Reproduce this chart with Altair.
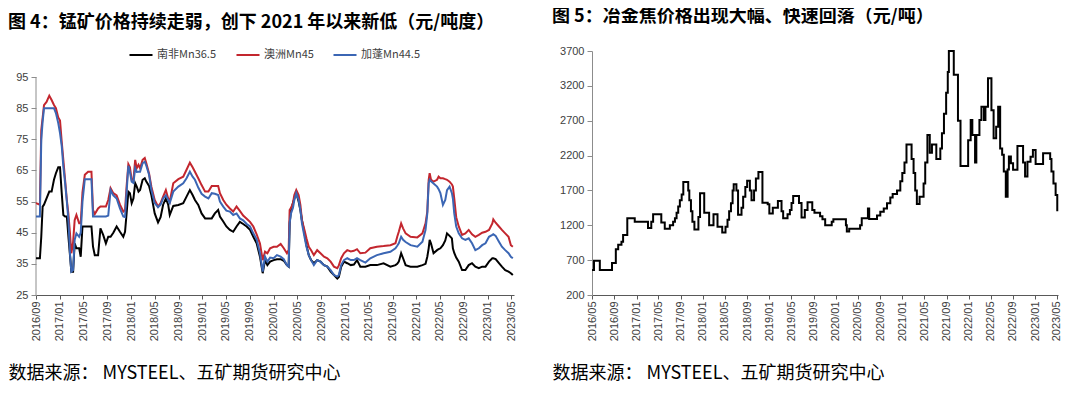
import altair as alt
import pandas as pd

TITLE_L = "图 4：锰矿价格持续走弱，创下 2021 年以来新低（元/吨度）"
TITLE_R = "图 5：冶金焦价格出现大幅、快速回落（元/吨）"
SOURCE = "数据来源： MYSTEEL、五矿期货研究中心"

SERIES = ["南非Mn36.5", "澳洲Mn45", "加蓬Mn44.5"]
COLORS = ["#000000", "#C3262E", "#3B66B4"]

LEFT_TICKS = ["2016/09", "2017/01", "2017/05", "2017/09", "2018/01", "2018/05", "2018/09",
              "2019/01", "2019/05", "2019/09", "2020/01", "2020/05", "2020/09", "2021/01",
              "2021/05", "2021/09", "2022/01", "2022/05", "2022/09", "2023/01", "2023/05"]
RIGHT_TICKS = ["2016/05", "2016/09", "2017/01", "2017/05", "2017/09", "2018/01", "2018/05",
               "2018/09", "2019/01", "2019/05", "2019/09", "2020/01", "2020/05", "2020/09",
               "2021/01", "2021/05", "2021/09", "2022/01", "2022/05", "2022/09", "2023/01",
               "2023/05"]
LEFT_Y = [25, 35, 45, 55, 65, 75, 85, 95]
RIGHT_Y = [200, 700, 1200, 1700, 2200, 2700, 3200, 3700]

MN_DATES = [
    "2016-09-01", "2016-09-21", "2016-09-28", "2016-10-05", "2016-10-12", "2016-10-25",
    "2016-11-08", "2016-11-20", "2016-12-02", "2016-12-12", "2016-12-24", "2017-01-02",
    "2017-01-11", "2017-01-19", "2017-01-28", "2017-02-06", "2017-02-14", "2017-02-22",
    "2017-03-01", "2017-03-10", "2017-03-18", "2017-03-27", "2017-04-10", "2017-04-18",
    "2017-04-27", "2017-05-09", "2017-05-26", "2017-06-12", "2017-06-20", "2017-06-29",
    "2017-07-16", "2017-07-28", "2017-08-11", "2017-08-25", "2017-09-06", "2017-09-18",
    "2017-10-02", "2017-10-19", "2017-11-05", "2017-11-22", "2017-12-01", "2017-12-09",
    "2017-12-18", "2017-12-26", "2018-01-04", "2018-01-13", "2018-01-22", "2018-01-30",
    "2018-02-08", "2018-02-16", "2018-03-01", "2018-03-12", "2018-03-20", "2018-04-03",
    "2018-04-15", "2018-05-02", "2018-05-19", "2018-06-01", "2018-06-14", "2018-06-28",
    "2018-07-10", "2018-07-18", "2018-08-05", "2018-08-31", "2018-09-25", "2018-10-12",
    "2018-10-29", "2018-11-12", "2018-11-24", "2018-12-11", "2018-12-28", "2019-01-15",
    "2019-02-01", "2019-02-18", "2019-03-06", "2019-03-23", "2019-04-01", "2019-04-18",
    "2019-05-04", "2019-05-22", "2019-06-08", "2019-06-25", "2019-07-12", "2019-07-29",
    "2019-08-16", "2019-09-02", "2019-09-19", "2019-10-06", "2019-10-23", "2019-11-06",
    "2019-11-18", "2019-11-30", "2019-12-14", "2020-01-01", "2020-01-18", "2020-02-06",
    "2020-02-22", "2020-03-09", "2020-03-18", "2020-03-23", "2020-03-30", "2020-04-09",
    "2020-04-16", "2020-04-26", "2020-05-08", "2020-05-17", "2020-05-25", "2020-06-07",
    "2020-06-17", "2020-06-29", "2020-07-11", "2020-07-25", "2020-08-11", "2020-08-28",
    "2020-09-15", "2020-10-02", "2020-10-19", "2020-11-05", "2020-11-22", "2020-11-30",
    "2020-12-12", "2020-12-26", "2021-01-12", "2021-01-30", "2021-02-15", "2021-03-03",
    "2021-03-20", "2021-04-15", "2021-05-10", "2021-06-13", "2021-07-17", "2021-08-21",
    "2021-09-16", "2021-09-25", "2021-10-03", "2021-10-15", "2021-10-25", "2021-11-07",
    "2021-12-02", "2022-01-06", "2022-02-01", "2022-02-17", "2022-02-26", "2022-03-05",
    "2022-03-10", "2022-03-17", "2022-03-30", "2022-04-17", "2022-04-25", "2022-05-04",
    "2022-05-17", "2022-05-29", "2022-06-07", "2022-06-20", "2022-07-02", "2022-07-07",
    "2022-07-14", "2022-07-24", "2022-08-06", "2022-08-23", "2022-09-09", "2022-09-26",
    "2022-10-13", "2022-10-30", "2022-11-17", "2022-12-04", "2022-12-21", "2023-01-08",
    "2023-01-25", "2023-01-30", "2023-02-11", "2023-02-28", "2023-03-15", "2023-04-01",
    "2023-04-18", "2023-04-30", "2023-05-10",
]

# 澳洲Mn45 (red)
MN_AU = [
    54.5, 54, 78, 82, 86, 87, 89, 87.6, 86, 85, 82, 81,
    74, 68.4, 62, 55.5, 51, 44.8, 38.4, 42, 49, 50.7, 48, 48,
    58, 63.6, 64.6, 64.6, 52.3, 51, 52.8, 53.4, 53.4, 53.4, 55.5, 59.3,
    57.7, 57, 54, 51.8, 52.3, 60, 67, 66, 62, 62, 68.4, 65.7,
    66.8, 65.7, 68.4, 69, 67.3, 64, 59.8, 55.5, 53.4, 54.5, 56.6, 58.7,
    56, 55, 60.9, 62.2, 63, 65.2, 67.5, 66, 64.6, 62.5, 60.3, 58.2,
    58.2, 60, 60, 60, 57.7, 55.5, 54, 52.8, 51.8, 53.4, 52, 50.5,
    49.5, 48.5, 47, 44.5, 41.5, 36.2, 38.9, 38.4, 40, 40.5, 40.5, 41.4,
    40, 38.4, 39.5, 52.3, 53, 54.5, 57.1, 58.7, 57.1, 53.9, 49, 45.9,
    43.2, 40.5, 39.4, 37.8, 39.4, 38.4, 37.3, 36.8, 35.7, 34.1, 33.6, 34.5,
    36.8, 38.4, 39.4, 39, 39.2, 39.7, 38.4, 38.6, 40, 40.5, 40.7, 41,
    41.6, 43.7, 45.3, 48, 46.4, 44.8, 43.7, 43.5, 44.8, 48, 51.8, 62,
    64.1, 62, 61.4, 62, 63, 62.5, 62.5, 62.2, 62, 61.4, 60.5, 59.8,
    56, 50, 47, 44.3, 44.8, 45.9, 44.5, 43.7, 44.3, 45, 45.3, 45.9,
    48, 49.3, 48.2, 47, 45.9, 44.8, 43.7, 41, 40.5,
]

# 加蓬Mn44.5 (blue)
MN_GA = [
    50.2, 50.2, 74.8, 80.7, 85, 85, 85, 85, 85, 83.4, 80.2, 77,
    72.7, 66.2, 61, 55, 49, 38.4, 32.5, 33, 42.7, 44.8, 43.7, 45,
    55, 62.2, 62.2, 62.2, 50.2, 50.2, 50.2, 50.2, 50.2, 50.2, 50.5, 58.7,
    57, 56, 52.8, 50.2, 50, 58, 66.5, 64.5, 61.4, 61, 65.7, 64.5,
    64.6, 64.6, 67.3, 67.8, 66.5, 63.6, 58.7, 54.5, 53.2, 54, 56, 57,
    55.5, 54.5, 58.2, 59.8, 60.9, 62.5, 64.6, 63, 62, 59.5, 57.5, 56.6,
    56, 57.7, 57.5, 57.1, 55, 53.4, 52.1, 51.8, 50.7, 51.2, 49.6, 49,
    47.8, 47, 44.8, 42.9, 38.4, 32.5, 37.3, 35.7, 37, 36.8, 37.8, 37.3,
    36.5, 34.6, 34.1, 48, 51.2, 53, 55.5, 57.7, 55.5, 52.3, 48, 43.7,
    40.5, 37.8, 36.2, 34.6, 36.2, 35.7, 34.6, 34.1, 33, 31.4, 30.9, 31.4,
    34.6, 36.2, 36.8, 36.2, 36.2, 36.8, 36.2, 35.4, 36.8, 37.8, 38.4, 38.9,
    40, 40.8, 41.6, 43.7, 42.7, 42, 41, 40.5, 42.1, 45.9, 51.2, 60.9,
    62, 61.5, 60.8, 59.8, 59, 57.7, 53.9, 55.5, 58.7, 59.8, 57.7, 56,
    51.2, 47, 44.8, 43.2, 42.7, 43.2, 41.6, 39.4, 40, 41, 41.6, 43.7,
    44.3, 44.5, 44, 42.1, 40.5, 39.4, 38.4, 37.3, 36.8,
]

# 南非Mn36.5 (black)
MN_SA = [
    36.8, 36.8, 43.7, 53.4, 54, 56, 58.2, 58.2, 62, 64.1, 66, 66,
    57.5, 50.7, 50.2, 50.2, 43.7, 37.8, 32.5, 32.5, 41.6, 40, 40, 37.3,
    47, 47, 47, 47, 40.5, 37.8, 37.8, 46.4, 44.3, 41.6, 43.7, 43.7,
    45, 47, 45.3, 43.7, 45.3, 51.2, 58.2, 57.7, 54.5, 56, 60.9, 59.8,
    58.2, 58.7, 62, 62.5, 61.4, 60, 57, 51.2, 48.3, 50, 54, 56,
    54, 50.7, 53.6, 53.9, 54.5, 56.6, 58.7, 57.1, 55.5, 53.9, 51.2, 49.6,
    49.6, 49.6, 51.2, 52.3, 50.2, 48.6, 47, 45.9, 45.3, 47, 48.5, 47.8,
    47, 45.9, 43.7, 41.6, 37.3, 32, 36.2, 34.6, 35.7, 36.2, 36.5, 36.5,
    36, 34.6, 34.1, 48, 52.3, 54.5, 56, 57.7, 55, 52.3, 49, 44.8,
    41, 37.8, 36.2, 35.2, 36.2, 35.7, 34.6, 34.1, 32.5, 31.4, 30.3, 30.8,
    34.1, 35.7, 35.2, 34.6, 34.8, 36.2, 34.1, 34.1, 34.6, 34.6, 35.2, 34.1,
    34.6, 35, 35.7, 38.4, 36.8, 34.6, 34.1, 34.1, 34.6, 35, 37.3, 40,
    42.7, 41.5, 38.4, 39.4, 39.7, 40, 41, 42.5, 44.8, 44, 43.2, 40,
    38.5, 37, 35.7, 33, 33, 34.6, 35.2, 34.1, 33.6, 34.1, 34.1, 35.7,
    36.8, 36.8, 36.5, 35.2, 34.1, 33, 32.5, 32, 31.4,
]

COKE_DATES = [
    "2016-05-01", "2016-05-12", "2016-06-13", "2016-08-19", "2016-09-09", "2016-09-22",
    "2016-10-10", "2016-10-19", "2016-11-11", "2016-12-22", "2017-03-05", "2017-03-23",
    "2017-04-02", "2017-05-17", "2017-06-05", "2017-07-03", "2017-07-21", "2017-07-31",
    "2017-08-09", "2017-08-18", "2017-08-27", "2017-09-06", "2017-09-15", "2017-10-12",
    "2017-10-18", "2017-10-27", "2017-11-04", "2017-11-15", "2017-12-07", "2017-12-16",
    "2018-01-08", "2018-02-04", "2018-02-28", "2018-03-22", "2018-04-17", "2018-05-05",
    "2018-05-16", "2018-05-25", "2018-06-04", "2018-06-13", "2018-06-19", "2018-07-04",
    "2018-07-13", "2018-08-01", "2018-08-10", "2018-08-22", "2018-09-01", "2018-09-16",
    "2018-09-25", "2018-10-09", "2018-10-19", "2018-11-02", "2018-11-24", "2018-12-23",
    "2019-01-01", "2019-01-20", "2019-02-17", "2019-03-09", "2019-03-18", "2019-04-11",
    "2019-04-24", "2019-05-03", "2019-05-12", "2019-06-13", "2019-06-27", "2019-07-15",
    "2019-07-30", "2019-08-25", "2019-09-06", "2019-10-07", "2019-10-20", "2019-11-04",
    "2019-12-10", "2019-12-19", "2020-02-26", "2020-03-02", "2020-03-15", "2020-05-14",
    "2020-05-23", "2020-06-26", "2020-07-03", "2020-08-15", "2020-09-02", "2020-09-21",
    "2020-10-09", "2020-10-27", "2020-11-09", "2020-12-03", "2020-12-21", "2021-01-01",
    "2021-01-13", "2021-01-24", "2021-02-21", "2021-03-04", "2021-03-13", "2021-03-22",
    "2021-04-06", "2021-04-28", "2021-05-07", "2021-05-19", "2021-06-01", "2021-06-13",
    "2021-07-07", "2021-07-29", "2021-08-07", "2021-08-18", "2021-08-30", "2021-09-08",
    "2021-09-14", "2021-10-11", "2021-11-03", "2021-11-17", "2021-12-29", "2022-01-12",
    "2022-01-21", "2022-02-05", "2022-02-12", "2022-03-01", "2022-03-12", "2022-03-26",
    "2022-04-03", "2022-04-17", "2022-05-06", "2022-05-18", "2022-06-01", "2022-06-12",
    "2022-06-23", "2022-07-04", "2022-07-13", "2022-07-24", "2022-08-03", "2022-08-10",
    "2022-08-21", "2022-09-02", "2022-09-26", "2022-10-27", "2022-11-07", "2022-11-20",
    "2022-12-07", "2022-12-20", "2023-01-04", "2023-02-14", "2023-03-25", "2023-04-01",
    "2023-04-12", "2023-04-24", "2023-05-03",
]
COKE = [
    560, 690, 560, 660, 855, 920, 965, 1060, 1300, 1250, 1160, 1250,
    1360, 1240, 1150, 1200, 1250, 1300, 1380, 1470, 1560, 1640, 1820, 1700,
    1560, 1400, 1250, 1140, 1320, 1660, 1380, 1200, 1360, 1180, 1095, 1180,
    1280, 1400, 1515, 1700, 1790, 1700, 1350, 1450, 1610, 1750, 1840, 1700,
    1560, 1700, 1870, 1965, 1525, 1500, 1370, 1450, 1550, 1400, 1300, 1360,
    1420, 1520, 1620, 1520, 1310, 1420, 1530, 1420, 1380, 1330, 1285, 1200,
    1250, 1285, 1200, 1110, 1150, 1200, 1300, 1440, 1290, 1340, 1395, 1440,
    1515, 1600, 1650, 1700, 1830, 1950, 2100, 2360, 2150, 1950, 1700, 1505,
    1610, 1800, 2100, 2495, 2240, 2360, 2150, 2300, 2520, 2800, 3100, 3400,
    3700, 3360, 2700, 2050, 2420, 2710, 2495, 2100, 2495, 2710, 2900, 2710,
    2900, 3310, 2850, 2450, 2615, 2900, 2300, 2210, 1970, 1610, 2000, 2185,
    2090, 1995, 2337, 2100, 1900, 2110, 2184, 2280, 2080, 2232, 2150, 1970,
    1800, 1635, 1400,
]

CJK = "Noto Sans CJK SC"
LAT = "Liberation Sans"


def utc_date(y, m, d=1):
    return alt.DateTime(year=y, month=m, date=d, utc=True)


def tick_values(labels):
    return [utc_date(int(s[:4]), int(s[5:7])) for s in labels]


def x_axis(labels, title_x):
    return alt.Axis(
        values=tick_values(labels), labelExpr="utcFormat(datum.value, '%Y/%m')",
        labelAngle=-90, labelOverlap=False, labelPadding=2, tickSize=4,
        domainColor="#595959", tickColor="#595959",
        title=SOURCE, titleX=title_x, titleY=78, titleAlign="left",
        titleBaseline="middle", titleFont=CJK, titleFontSize=18,
        titleFontWeight="normal", titleColor="#000000",
    )


def y_axis(values, show_domain):
    return alt.Axis(values=values, title=None, domain=show_domain, format="d",
                    domainColor="#8c8c8c", tickColor="#8c8c8c", tickSize=5,
                    labelPadding=3)


def head(text):
    return alt.TitleParams(text=text, anchor="start", font=CJK, fontSize=18,
                           fontWeight="bold", color="#000000", offset=19)


n = len(MN_DATES)
mn_df = pd.DataFrame({
    "date": MN_DATES * 3,
    "series": [SERIES[0]] * n + [SERIES[1]] * n + [SERIES[2]] * n,
    "value": MN_SA + MN_AU + MN_GA,
})
rule_df = pd.DataFrame({"lo": [LEFT_Y[0]], "hi": [LEFT_Y[-1]]})
coke_df = pd.DataFrame({"date": COKE_DATES, "value": COKE})

left_y_scale = alt.Scale(domain=[25, 103.35], nice=False, zero=False)
left_y_axis = y_axis(LEFT_Y, False)

mn_axis_line = alt.Chart(rule_df).mark_rule(color="#8c8c8c", strokeWidth=1).encode(
    x=alt.value(0),
    y=alt.Y("lo:Q", scale=left_y_scale, axis=left_y_axis),
    y2="hi:Q",
)

mn_lines = alt.Chart(mn_df).mark_line(strokeWidth=2).encode(
    x=alt.X("date:T",
            scale=alt.Scale(type="utc", domain=[utc_date(2016, 9, 1), utc_date(2023, 5, 16)], nice=False),
            axis=x_axis(LEFT_TICKS, -28)),
    y=alt.Y("value:Q", scale=left_y_scale, axis=left_y_axis),
    color=alt.Color("series:N", scale=alt.Scale(domain=SERIES, range=COLORS),
                    legend=alt.Legend(orient="none", legendX=92, legendY=-9,
                                      direction="horizontal", title=None,
                                      symbolType="stroke", symbolStrokeWidth=2,
                                      symbolSize=530, labelFont=CJK, labelFontSize=11,
                                      labelColor="#404040", columnPadding=15,
                                      labelOffset=3, padding=0)),
    order=alt.Order("date:T"),
)

left = alt.layer(mn_axis_line, mn_lines).properties(width=478, height=244, title=head(TITLE_L))

right = alt.Chart(coke_df).mark_line(strokeWidth=2, color="#000000", interpolate="step-after").encode(
    x=alt.X("date:T",
            scale=alt.Scale(type="utc", domain=[utc_date(2016, 5, 1), utc_date(2023, 5, 7)], nice=False),
            axis=x_axis(RIGHT_TICKS, -40)),
    y=alt.Y("value:Q", scale=alt.Scale(domain=[200, 3700], nice=False, zero=False),
            axis=y_axis(RIGHT_Y, True)),
).properties(width=466, height=244, title=head(TITLE_R))

chart = alt.hconcat(left, right, spacing=35).properties(
    padding={"left": 0, "top": 0, "right": 0, "bottom": 0}
).configure_view(stroke=None).configure_axis(
    grid=False, labelFont=LAT, labelFontSize=11, labelColor="#404040"
)

chart.save("out.html", embed_options={"renderer": "svg", "actions": False})
